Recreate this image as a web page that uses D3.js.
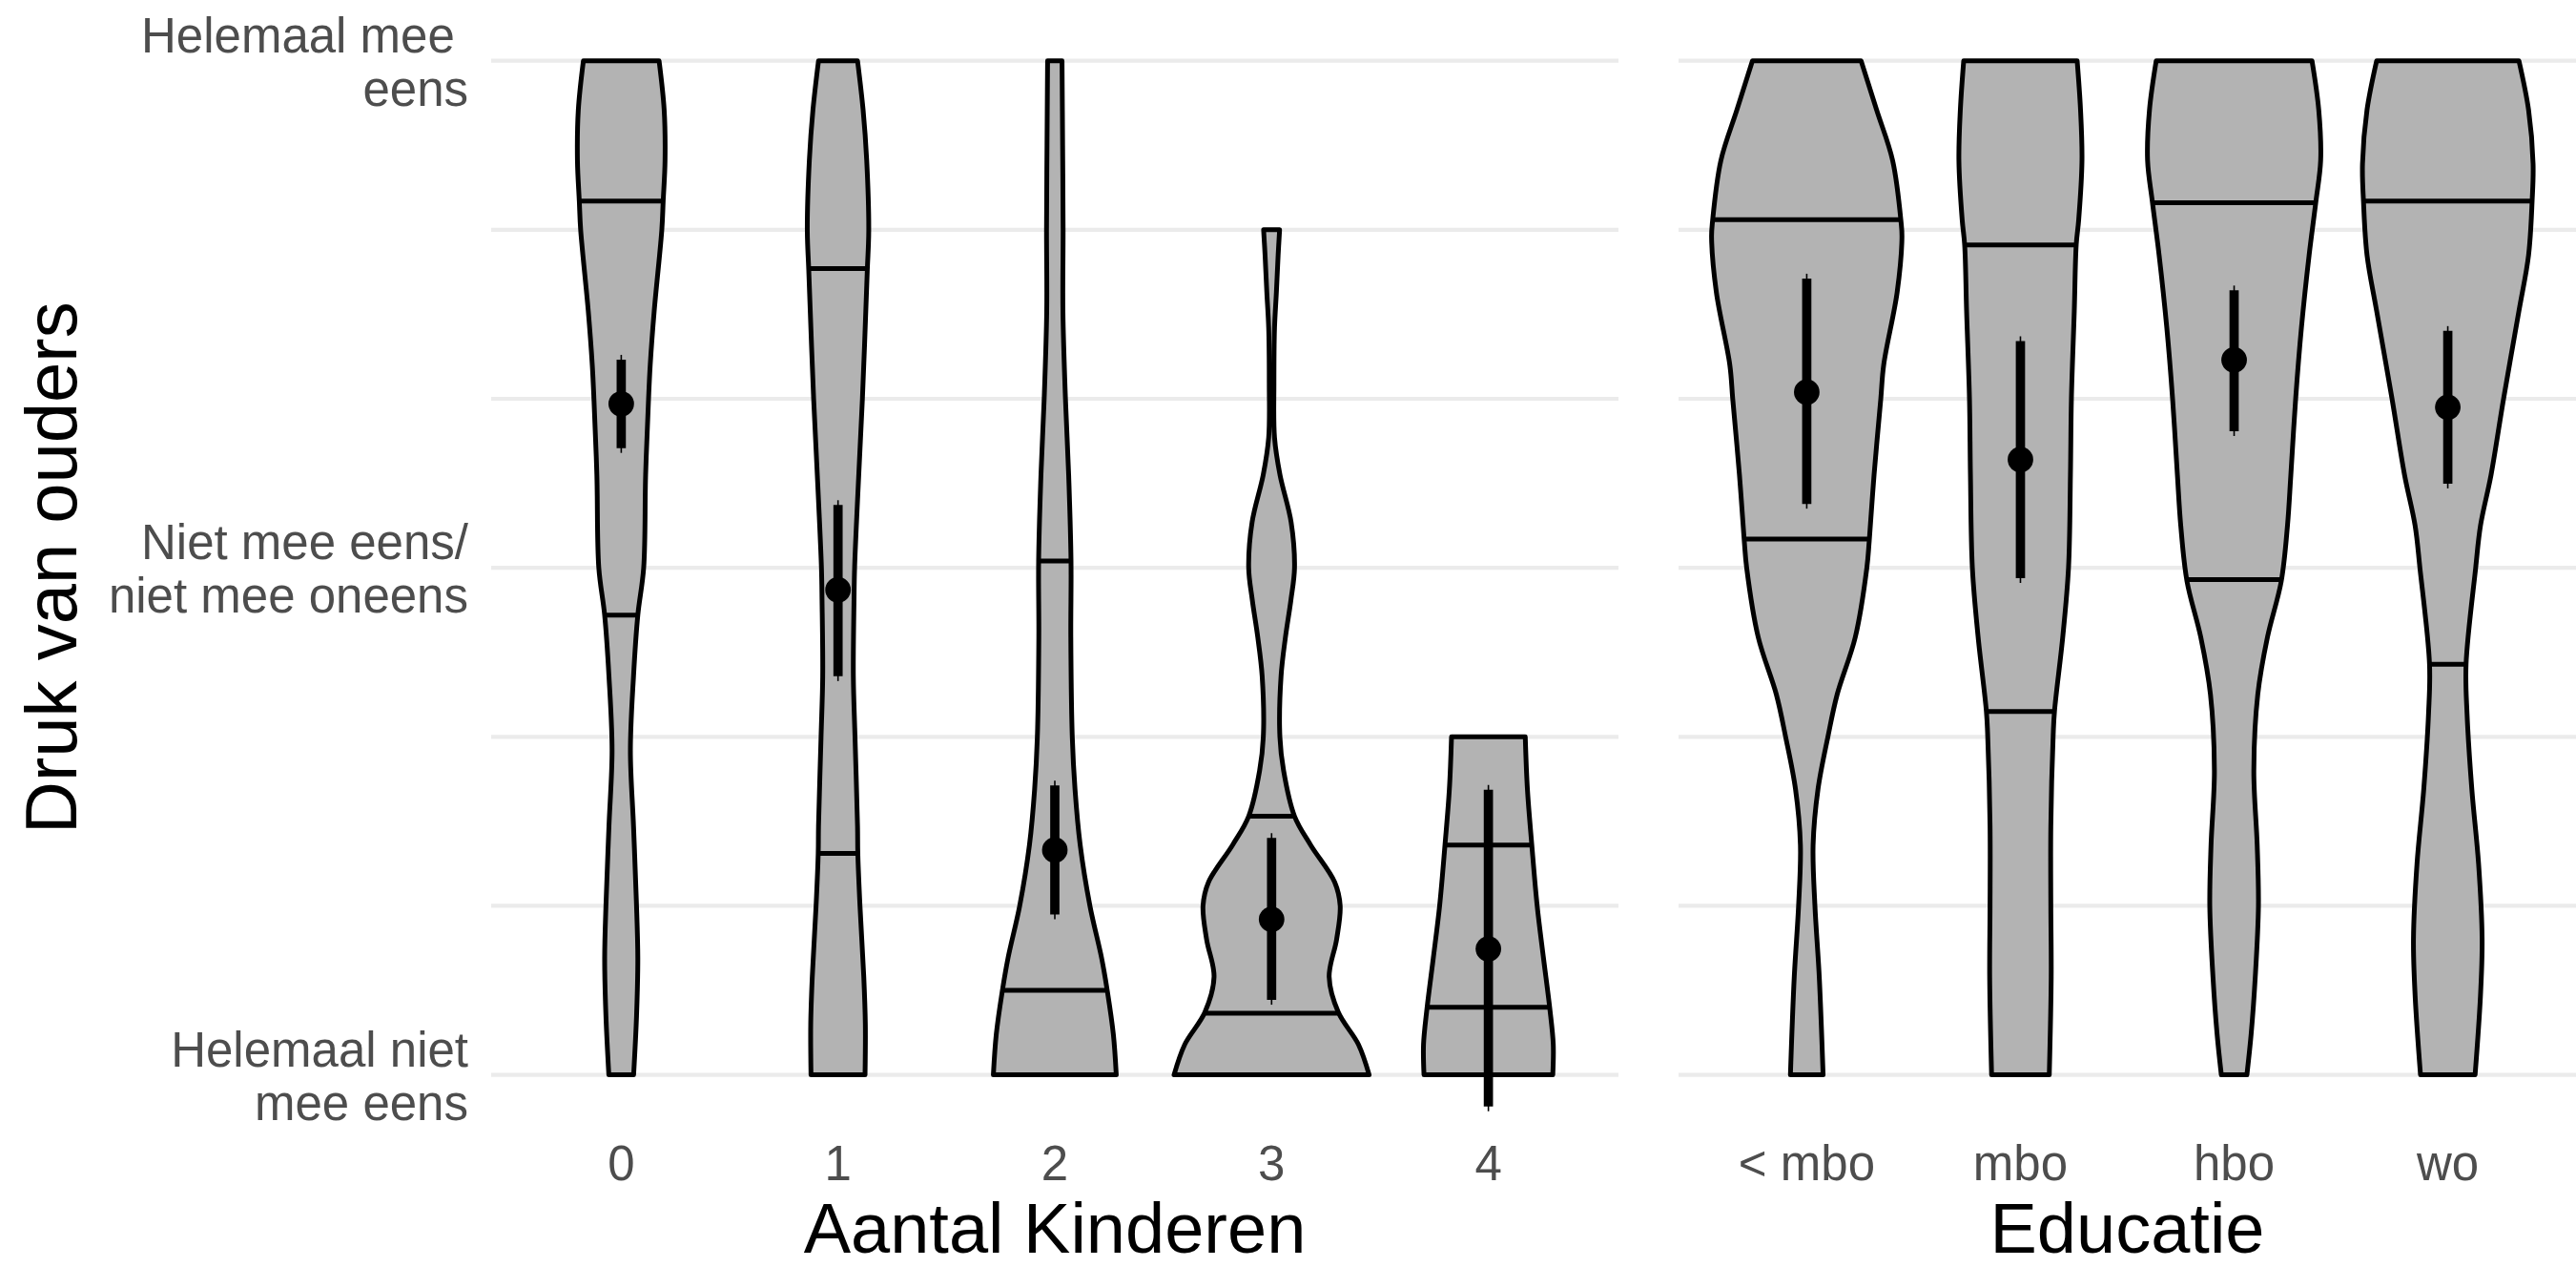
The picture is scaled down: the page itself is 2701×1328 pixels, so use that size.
<!DOCTYPE html>
<html>
<head>
<meta charset="utf-8">
<script src="https://cdn.jsdelivr.net/npm/d3@7"></script>
<style>
  body { margin: 0; background: #fff; }
  svg text { font-family: 'Liberation Sans', Arial, Helvetica, sans-serif; }
</style>
</head>
<body>
<div class="d3-wrapper"></div>
<script>
// ---- data ----
const KIDS = ['0', '1', '2', '3', '4'];
const EDUCATION = ['< mbo', 'mbo', 'hbo', 'wo'];

const GRID_VALUES = [1, 2, 3, 4, 5, 6, 7];
const Y_TICKS = [1, 4, 7];
const Y_TICK_LABELS = [
  ['Helemaal niet', 'mee eens'],
  ['Niet mee eens/', 'niet mee oneens'],
  ['Helemaal mee ', 'eens']
];

// violin outlines: [score, relative width] (1 = widest violin of the plot)
const kidsDensity = [
  [[1, 0.127], [1.35, 0.157], [1.69, 0.17], [2.03, 0.155], [2.47, 0.126], [2.92, 0.094], [3.36, 0.126],
   [3.72, 0.17], [4, 0.23], [4.55, 0.25], [5, 0.28], [5.2, 0.297], [5.52, 0.338], [6, 0.416], [6.17, 0.43],
   [6.41, 0.449], [6.71, 0.44], [7, 0.388]],
  [[1, 0.277], [1.3, 0.28], [1.58, 0.264], [2, 0.225], [2.31, 0.203], [2.47, 0.2], [3, 0.174], [3.36, 0.157],
   [3.81, 0.164], [4, 0.17], [4.4, 0.2], [5, 0.25], [5.76, 0.3], [6, 0.315], [6.41, 0.294], [6.71, 0.257], [7, 0.2]],
  [[1, 0.63], [1.24, 0.6], [1.49, 0.54], [1.69, 0.48], [2, 0.36], [2.36, 0.26], [2.69, 0.207], [3, 0.179],
   [3.59, 0.164], [4.04, 0.166], [4.55, 0.142], [5, 0.109], [5.52, 0.083], [6, 0.085], [6.5, 0.08], [7, 0.074]],
  [[1, 1], [1.18, 0.89], [1.37, 0.684], [1.58, 0.59], [1.8, 0.666], [2, 0.703], [2.14, 0.647], [2.36, 0.4],
   [2.53, 0.235], [2.8, 0.123], [3, 0.085], [3.36, 0.097], [3.59, 0.142], [3.81, 0.198], [4, 0.235], [4.27, 0.2],
   [4.55, 0.086], [4.77, 0.03], [5.09, 0.024], [5.42, 0.03], [5.63, 0.049], [5.85, 0.067], [6, 0.082]],
  [[1, 0.66], [1.18, 0.665], [1.39, 0.63], [1.69, 0.565], [2, 0.5], [2.36, 0.445], [2.69, 0.4], [3, 0.378]]
];
const eduDensity = [
  [[1, 0.17], [1.58, 0.13], [2, 0.085], [2.36, 0.066], [2.69, 0.117], [3, 0.22], [3.25, 0.316], [3.59, 0.505],
   [4, 0.625], [4.16, 0.65], [4.55, 0.7], [5, 0.77], [5.2, 0.8], [5.63, 0.94], [5.955, 0.99], [6.05, 0.98],
   [6.41, 0.893], [6.71, 0.726], [7, 0.565]],
  [[1, 0.3], [1.58, 0.32], [2, 0.316], [2.47, 0.316], [3, 0.34], [3.15, 0.354], [3.59, 0.44], [4, 0.5],
   [4.55, 0.52], [5, 0.53], [5.52, 0.56], [5.91, 0.58], [6.06, 0.606], [6.41, 0.64], [6.71, 0.625], [7, 0.59]],
  [[1, 0.133], [1.24, 0.177], [1.58, 0.22], [2, 0.253], [2.36, 0.24], [2.8, 0.205], [3.25, 0.246], [3.59, 0.347],
   [3.92, 0.49], [4.25, 0.555], [4.55, 0.59], [5, 0.64], [5.42, 0.7], [5.85, 0.78], [6.165, 0.85], [6.41, 0.9],
   [6.71, 0.88], [7, 0.81]],
  [[1, 0.284], [1.47, 0.34], [1.8, 0.357], [2.25, 0.32], [2.69, 0.25], [3.14, 0.2], [3.43, 0.19], [4, 0.29],
   [4.25, 0.34], [4.55, 0.45], [5, 0.58], [5.52, 0.74], [5.85, 0.84], [6.17, 0.877], [6.39, 0.887], [6.71, 0.84],
   [7, 0.74]]
];

// quantile lines drawn inside each violin
const kidsQuantiles = [[3.72, 6.17], [2.31, 5.77], [1.5, 4.04], [1.365, 2.53], [1.4, 2.36]];
const eduQuantiles = [[4.17, 6.06], [3.15, 5.91], [3.93, 6.16], [3.43, 6.17]];

// mean with interval
const kidsMean = [4.97, 3.87, 2.33, 1.92, 1.745];
const kidsLow = [4.68, 3.33, 1.92, 1.415, 0.785];
const kidsHigh = [5.26, 4.40, 2.74, 2.43, 2.715];
const eduMean = [5.04, 4.64, 5.23, 4.95];
const eduLow = [4.35, 3.91, 4.78, 4.47];
const eduHigh = [5.74, 5.37, 5.67, 5.43];

// ---- layout ----
const WIDTH = 2701, HEIGHT = 1328;
const PANEL_TOP = 63.7, PANEL_BOTTOM = 1126.6;
const LEFT_RANGE = [515, 1697], RIGHT_RANGE = [1760, 2701];
const TEXT_GREY = '#4d4d4d';

const yScale = d3.scaleLinear().domain([1, 7]).range([PANEL_BOTTOM, PANEL_TOP]);

const svg = d3.select('.d3-wrapper').append('svg')
  .attr('width', WIDTH)
  .attr('height', HEIGHT);

function drawPanel(cats, density, quantiles, means, lows, highs, range, title, key) {
  const xScale = d3.scalePoint().domain(cats).range(range).padding(0.6);
  const half = xScale.step() * 0.45;
  const g = svg.append('g').attr('class', 'panel-' + key);

  g.selectAll('.grid')
    .data(GRID_VALUES)
    .enter().append('line')
    .attr('class', 'grid')
    .attr('x1', range[0])
    .attr('x2', range[1])
    .attr('y1', d => yScale(d))
    .attr('y2', d => yScale(d))
    .attr('stroke', '#ebebeb')
    .attr('stroke-width', 4.2);

  cats.forEach((c, i) => {
    const cx = xScale(c);
    const area = d3.area()
      .curve(d3.curveCatmullRom.alpha(0.5))
      .y(d => yScale(d[0]))
      .x0(d => cx - d[1] * half)
      .x1(d => cx + d[1] * half);
    const clipId = `clip-${key}-${i}`;

    g.append('clipPath').attr('id', clipId)
      .append('path').attr('d', area(density[i]));

    g.append('path')
      .attr('d', area(density[i]))
      .attr('fill', '#b3b3b3')
      .attr('stroke', '#000')
      .attr('stroke-width', 5)
      .attr('stroke-linejoin', 'round');

    g.selectAll('.q' + i)
      .data(quantiles[i])
      .enter().append('line')
      .attr('x1', cx - half)
      .attr('x2', cx + half)
      .attr('y1', d => yScale(d))
      .attr('y2', d => yScale(d))
      .attr('clip-path', `url(#${clipId})`)
      .attr('stroke', '#000')
      .attr('stroke-width', 5);

    // interval: thin full range, thick slightly inset, then the mean point
    g.append('line')
      .attr('x1', cx).attr('x2', cx)
      .attr('y1', yScale(lows[i])).attr('y2', yScale(highs[i]))
      .attr('stroke', '#000').attr('stroke-width', 1.6);
    g.append('line')
      .attr('x1', cx).attr('x2', cx)
      .attr('y1', yScale(lows[i]) - 5).attr('y2', yScale(highs[i]) + 5)
      .attr('stroke', '#000').attr('stroke-width', 9.7);
    g.append('circle')
      .attr('cx', cx)
      .attr('cy', yScale(means[i]))
      .attr('r', 13.4)
      .attr('fill', '#000');
  });

  g.selectAll('.x-tick')
    .data(cats)
    .enter().append('text')
    .attr('class', 'x-tick')
    .attr('x', d => xScale(d))
    .attr('y', 1237)
    .attr('text-anchor', 'middle')
    .style('font-size', '51px')
    .style('fill', TEXT_GREY)
    .text(d => d);

  g.append('text')
    .attr('x', (range[0] + range[1]) / 2)
    .attr('y', 1313)
    .attr('text-anchor', 'middle')
    .style('font-size', '74px')
    .style('fill', '#000')
    .text(title);
}

drawPanel(KIDS, kidsDensity, kidsQuantiles, kidsMean, kidsLow, kidsHigh, LEFT_RANGE, 'Aantal Kinderen', 'kids');
drawPanel(EDUCATION, eduDensity, eduQuantiles, eduMean, eduLow, eduHigh, RIGHT_RANGE, 'Educatie', 'edu');

// y tick labels (two lines each, right aligned)
const yLabels = svg.selectAll('.y-tick')
  .data(Y_TICKS)
  .enter().append('text')
  .attr('class', 'y-tick')
  .attr('text-anchor', 'end')
  .style('font-size', '51px')
  .style('fill', TEXT_GREY)
  .style('white-space', 'pre');

yLabels.each(function (v, i) {
  d3.select(this).selectAll('tspan')
    .data(Y_TICK_LABELS[i])
    .enter().append('tspan')
    .attr('x', 491)
    .attr('y', (d, j) => yScale(v) - 9 + j * 56)
    .text(d => d);
});

svg.append('text')
  .attr('transform', `translate(80, ${(PANEL_TOP + PANEL_BOTTOM) / 2}) rotate(-90)`)
  .attr('text-anchor', 'middle')
  .style('font-size', '76px')
  .style('fill', '#000')
  .text('Druk van ouders');
</script>
</body>
</html>
